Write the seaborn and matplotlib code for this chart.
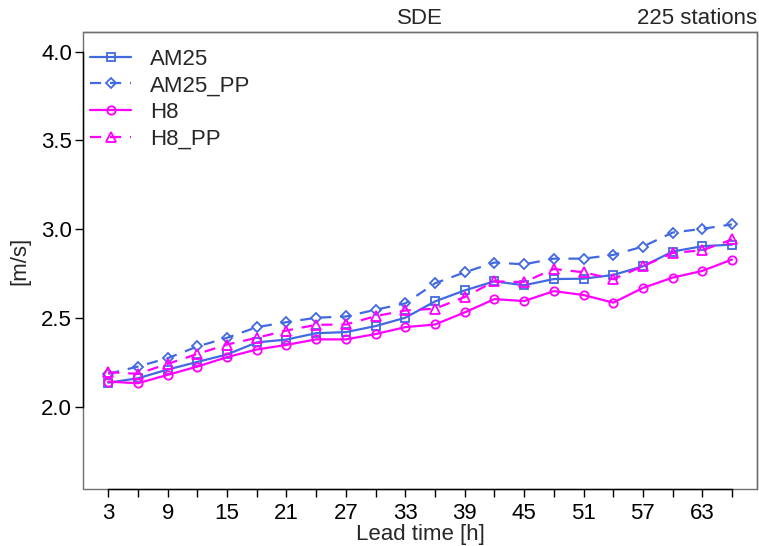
import numpy as np
import pandas as pd
import matplotlib
matplotlib.use("Agg")
import matplotlib.pyplot as plt
import seaborn as sns

lead = [3, 6, 9, 12, 15, 18, 21, 24, 27, 30, 33, 36, 39, 42, 45, 48, 51, 54, 57, 60, 63, 66]
am25 = [2.135, 2.16, 2.209, 2.252, 2.294, 2.362, 2.378, 2.414, 2.42, 2.454, 2.501, 2.593,
        2.655, 2.706, 2.684, 2.719, 2.721, 2.742, 2.791, 2.874, 2.904, 2.913]
am25_pp = [2.185, 2.226, 2.273, 2.339, 2.388, 2.448, 2.476, 2.501, 2.508, 2.546, 2.582, 2.695,
           2.757, 2.812, 2.802, 2.834, 2.834, 2.855, 2.902, 2.981, 3.002, 3.027]
h8 = [2.141, 2.132, 2.179, 2.226, 2.279, 2.322, 2.348, 2.379, 2.379, 2.409, 2.448, 2.463,
      2.531, 2.606, 2.595, 2.651, 2.629, 2.586, 2.669, 2.727, 2.765, 2.829]
h8_pp = [2.194, 2.185, 2.241, 2.297, 2.35, 2.388, 2.429, 2.461, 2.463, 2.51, 2.542, 2.552,
         2.618, 2.706, 2.702, 2.776, 2.757, 2.719, 2.791, 2.866, 2.881, 2.942]
series_names = ["AM25", "AM25_PP", "H8", "H8_PP"]
xtick_labels = ["3", "9", "15", "21", "27", "33", "39", "45", "51", "57", "63"]
ytick_vals = [2.0, 2.5, 3.0, 3.5, 4.0]

sns.set_theme(style="white")
plt.rcParams["font.family"] = ["Liberation Sans", "DejaVu Sans"]
FS = 16

fig = plt.figure(figsize=(7.59, 5.46), dpi=100)
ax = fig.add_axes([83.3 / 759, 1 - 489 / 546, (757 - 83.3) / 759, (489 - 32) / 546])

blue = "#4169E1"
mag = "#FF00FF"
styles = {
    "AM25": dict(color=blue, marker="s", ls="-", ms=5.5),
    "AM25_PP": dict(color=blue, marker="D", ls=(0, (5, 4)), ms=5.0),
    "H8": dict(color=mag, marker="o", ls="-", ms=6.0),
    "H8_PP": dict(color=mag, marker="^", ls=(0, (5, 4)), ms=6.5),
}
data = {"AM25": am25, "AM25_PP": am25_pp, "H8": h8, "H8_PP": h8_pp}

for name in series_names:
    st = styles[name]
    sns.lineplot(x=lead, y=data[name], ax=ax, color=st["color"], marker=st["marker"],
                 linestyle=st["ls"], lw=1.6, markersize=st["ms"],
                 markerfacecolor="none", markeredgecolor=st["color"], markeredgewidth=1.3,
                 label=name)

ax.set_xlim(0.48, 68.52)
ax.set_ylim(1.536, 4.111)
ax.set_xticks(lead)
ax.set_xticklabels([str(v) if str(v) in xtick_labels else "" for v in lead], fontsize=FS)
ax.set_yticks(ytick_vals)
ax.set_yticklabels([f"{v:.1f}" for v in ytick_vals], fontsize=FS)
ax.tick_params(axis="both", direction="out", length=6, width=1, color="black",
               bottom=True, left=True, labelcolor="black")
ax.tick_params(axis="x", pad=4)
ax.tick_params(axis="y", pad=2)

for s in ax.spines.values():
    s.set_color("#707070")
    s.set_linewidth(1.0)
ax.spines["bottom"].set_bounds(3, 66)
ax.spines["bottom"].set_color("black")
ax.spines["left"].set_bounds(2.0, 4.0)
ax.spines["left"].set_color("black")
frame = plt.Rectangle((0, 0), 1, 1, transform=ax.transAxes, fill=False,
                      edgecolor="#707070", lw=1.0, zorder=0.5, clip_on=False)
ax.add_patch(frame)

ax.set_xlabel("Lead time [h]", fontsize=FS)
ax.xaxis.set_label_coords(0.5, -(524 - 489) / 457)
ax.set_ylabel("[m/s]", fontsize=FS, labelpad=8)

ax.legend(loc="upper left", bbox_to_anchor=(0.0, 0.978), frameon=False, fontsize=FS,
          handlelength=1.85, handletextpad=0.85, labelspacing=0.25, borderaxespad=0.0,
          borderpad=0.3, numpoints=1)

fig.text((83.3 + 757) / 2 / 759, 1 - 19 / 546, "SDE", ha="center", va="center", fontsize=FS)
fig.text(757 / 759, 1 - 19 / 546, "225 stations", ha="right", va="center", fontsize=FS)

fig.savefig("out.png", dpi=100)
